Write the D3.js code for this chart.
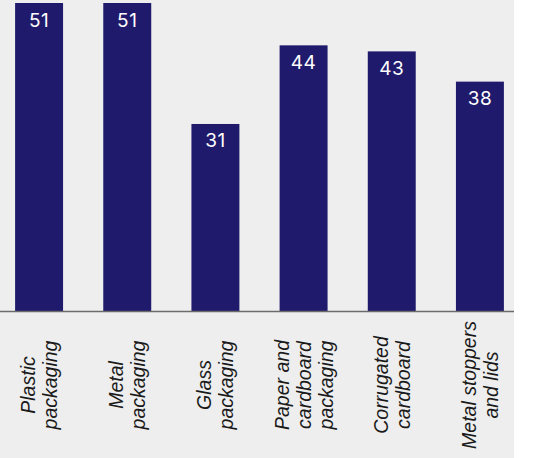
<!DOCTYPE html>
<html>
<head>
<meta charset="utf-8">
<script src="https://cdn.jsdelivr.net/npm/d3@7"></script>
<style>
    body { margin: 0; background: #ffffff; }
    svg { display: block; }
</style>
</head>
<body>
<div id="chart"></div>
<script>
// data
var categories = ["Plastic packaging", "Metal packaging", "Glass packaging",
                  "Paper and cardboard packaging", "Corrugated cardboard",
                  "Metal stoppers and lids"];
var label_lines = [["Plastic", "packaging"], ["Metal", "packaging"],
                   ["Glass", "packaging"], ["Paper and", "cardboard", "packaging"],
                   ["Corrugated", "cardboard"], ["Metal stoppers", "and lids"]];
var values = [51, 51, 31, 44, 43, 38];

(function(){
    var width = 542, height = 458;
    var panel_w = 514;
    var base_y = 311.5;

    var svg = d3.select("#chart").append("svg")
                .attr("width", width)
                .attr("height", height);

    // grey panel behind the chart
    svg.append("rect")
       .attr("x", 0).attr("y", 0)
       .attr("width", panel_w).attr("height", height)
       .attr("fill", "#eeeeee");

    var x = d3.scaleBand()
              .domain(categories)
              .range([-5, 524])
              .paddingInner(0.456)
              .paddingOuter(0.228);

    var y = d3.scaleLinear()
              .domain([0, 51])
              .range([base_y, 3]);

    var bars = svg.append("g").selectAll("g.bar")
                  .data(categories)
                  .join("g")
                  .attr("class", "bar");

    bars.append("rect")
        .attr("x", function(d) { return x(d); })
        .attr("y", function(d, i) { return y(values[i]); })
        .attr("width", x.bandwidth())
        .attr("height", function(d, i) { return y(0) - y(values[i]); })
        .attr("fill", "#1f1a6b");

    bars.append("text")
        .attr("x", function(d) { return x(d) + x.bandwidth() / 2; })
        .attr("y", function(d, i) { return y(values[i]) + 23.5; })
        .attr("text-anchor", "middle")
        .attr("fill", "#ffffff")
        .style("font-family", "Inter, 'Open Sans', sans-serif")
        .style("font-size", "19px")
        .style("letter-spacing", "0.5px")
        .text(function(d, i) { return values[i]; });

    // baseline
    svg.append("line")
       .attr("x1", 0).attr("x2", panel_w)
       .attr("y1", base_y).attr("y2", base_y)
       .attr("stroke", "#6b6b6b")
       .attr("stroke-width", 1.5);

    // rotated category labels
    var line_h = 22;
    var labels = svg.append("g").selectAll("text.cat")
                    .data(categories)
                    .join("text")
                    .attr("class", "cat")
                    .attr("transform", function(d) {
                        return "translate(" + (x(d) + x.bandwidth() / 2) + ",385) rotate(-90)";
                    })
                    .attr("text-anchor", "middle")
                    .attr("fill", "#1a1a1a")
                    .style("font-family", "'Liberation Sans', Arial, sans-serif")
                    .style("font-style", "italic")
                    .style("font-size", "19.5px");

    labels.each(function(d, i) {
        var lines = label_lines[i];
        var t = d3.select(this);
        lines.forEach(function(s, j) {
            t.append("tspan")
             .attr("x", 0)
             .attr("y", (j - (lines.length - 1) / 2) * line_h + 7)
             .text(s);
        });
    });
})();
</script>
</body>
</html>
